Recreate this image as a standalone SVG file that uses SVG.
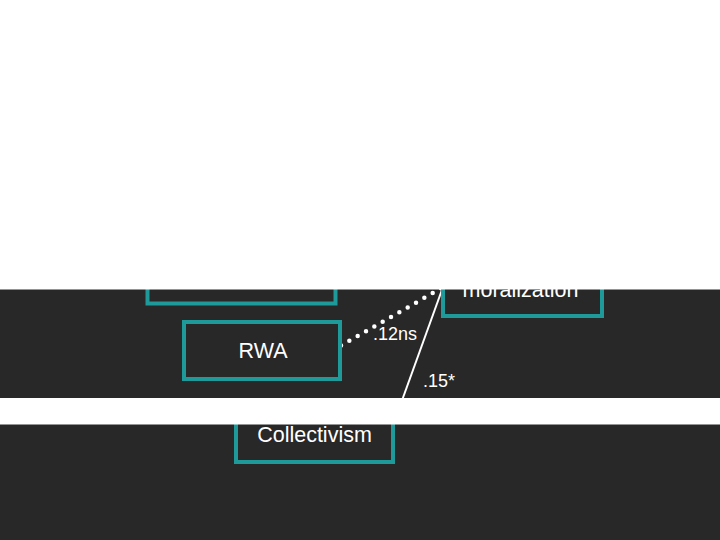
<svg xmlns="http://www.w3.org/2000/svg" width="720" height="540" viewBox="0 0 720 540">
<style>
.box{fill:none;stroke:#1f9a9a;stroke-width:4}
.lbl{font-family:"Liberation Sans",Arial,sans-serif;font-size:21.5px;fill:#ffffff;text-anchor:middle}
.coef{font-family:"Liberation Sans",Arial,sans-serif;font-size:18px;fill:#ffffff}
.solid{stroke:#ffffff;stroke-width:2;fill:none}
.dotted{stroke:#ffffff;stroke-width:4.5;stroke-linecap:round;stroke-dasharray:0 9.6;fill:none}
.mask{fill:#ffffff}
</style>
<rect x="0" y="0" width="720" height="540" fill="#282828"/>
<g id="connectors">
<line class="dotted" x1="341" y1="345.5" x2="446" y2="285.5"/>
<line class="solid" x1="443" y1="287" x2="400" y2="406"/>
<text class="coef" x="373" y="339.5">.12ns</text>
<text class="coef" x="423" y="386.5">.15*</text>
</g>
<g id="node-top">
<rect class="box" x="147.5" y="200" width="188" height="103.5"/>
</g>
<g id="node-rwa">
<rect class="box" x="184" y="322" width="156" height="57"/>
<text class="lbl" x="263" y="358">RWA</text>
</g>
<g id="node-moralization">
<rect class="box" x="443" y="220" width="159" height="96"/>
<text class="lbl" x="520.5" y="297">moralization</text>
</g>
<g id="node-collectivism">
<rect class="box" x="236" y="405" width="157" height="57"/>
<text class="lbl" x="314.5" y="442">Collectivism</text>
</g>
<rect class="mask" x="0" y="0" width="720" height="289.5"/>
<rect class="mask" x="0" y="398" width="720" height="26.5"/>
</svg>
